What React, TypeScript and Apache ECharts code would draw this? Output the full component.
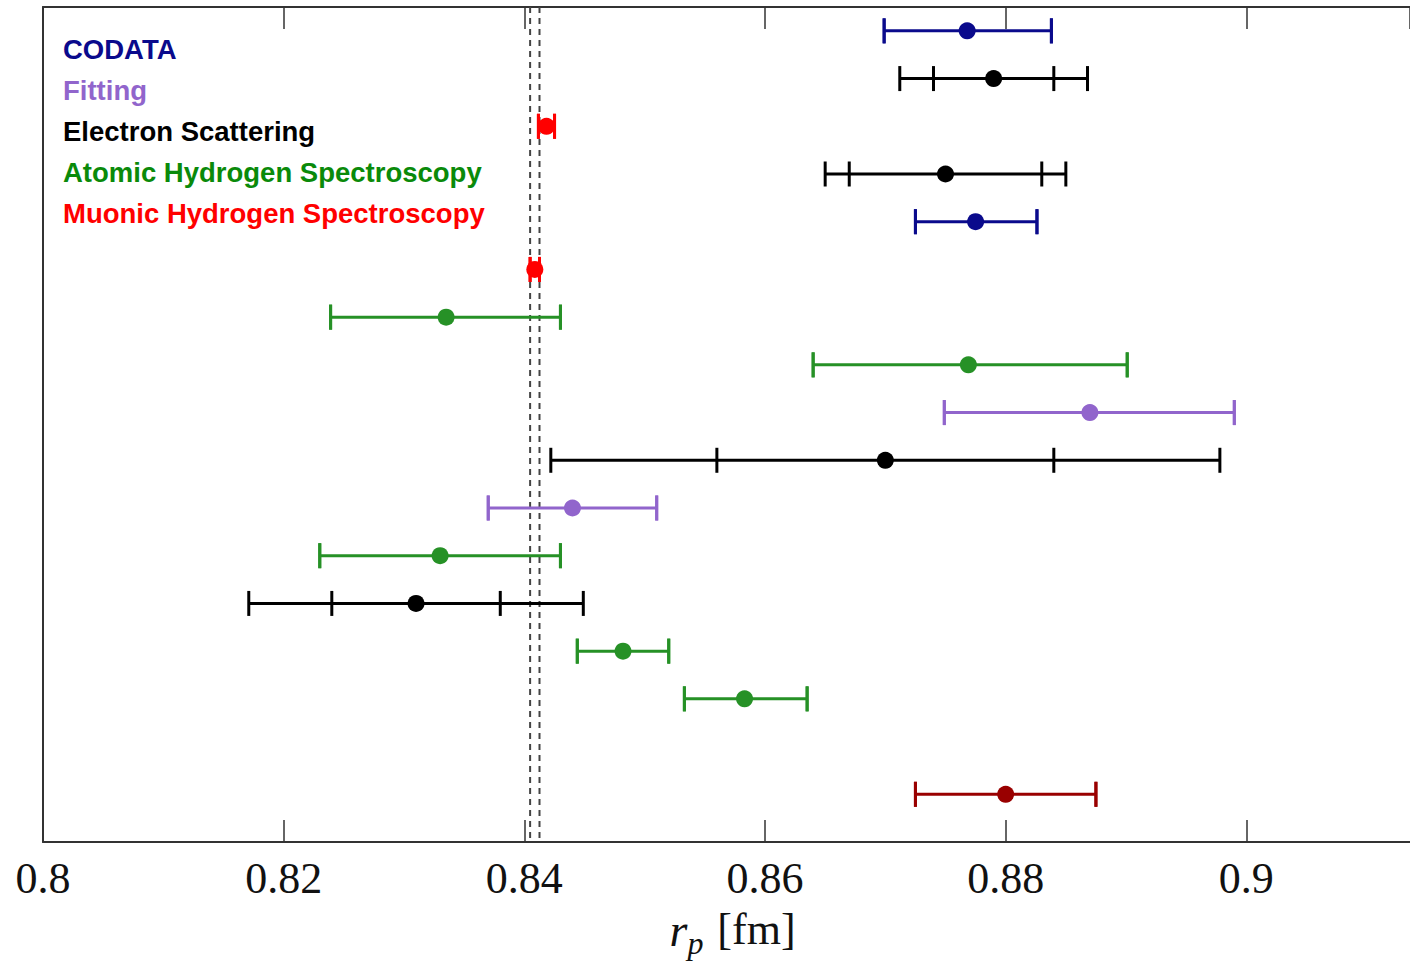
import React, { useEffect, useRef } from 'react';
import * as echarts from 'echarts';

// Row positions (top = 1); row 16 is empty
const rowIndex = [1, 2, 3, 4, 5, 6, 7, 8, 9, 10, 11, 12, 13, 14, 15, 17];
// group index per row: 0 CODATA, 1 Fitting, 2 Electron Scattering, 3 Atomic H, 4 Muonic H, 5 Other
const rowGroup = [0, 2, 4, 2, 0, 4, 3, 3, 1, 2, 1, 3, 2, 3, 3, 5];
const centers = [0.8768, 0.8790, 0.84184, 0.8750, 0.8775, 0.84087, 0.8335, 0.8769, 0.8870, 0.8700, 0.8440, 0.8330, 0.8310, 0.8482, 0.8583, 0.8800];
const innerLow = [0.8699, 0.8740, 0.84117, 0.8670, 0.8725, 0.84048, 0.8239, 0.8640, 0.8749, 0.8560, 0.8370, 0.8230, 0.8240, 0.8444, 0.8533, 0.8725];
const innerHigh = [0.8838, 0.8840, 0.84251, 0.8830, 0.8826, 0.84126, 0.8430, 0.8901, 0.8990, 0.8840, 0.8510, 0.8430, 0.8380, 0.8520, 0.8635, 0.8875];
const outerLow: (number | null)[] = [null, 0.8712, null, 0.8650, null, null, null, null, null, 0.8422, null, null, 0.8171, null, null, null];
const outerHigh: (number | null)[] = [null, 0.8868, null, 0.8850, null, null, null, null, null, 0.8978, null, null, 0.8449, null, null, null];

const groupNames = ['CODATA', 'Fitting', 'Electron Scattering', 'Atomic Hydrogen Spectroscopy', 'Muonic Hydrogen Spectroscopy', 'Other'];
const groupColors = ['#0a0a8c', '#9165cc', '#000000', '#269126', '#ff0000', '#990000'];
const legendLabels = ['CODATA', 'Fitting', 'Electron Scattering', 'Atomic Hydrogen Spectroscopy', 'Muonic Hydrogen Spectroscopy'];
const legendColors = ['#0a0a8c', '#9165cc', '#000000', '#0a8a0a', '#ff0000'];
const bandLines = [0.84048, 0.84126];

const X_MIN = 0.8;
const X_MAX = 0.9136;
const X_STEP = 0.02;
const Y_MIN = 0.5;
const Y_MAX = 18;

export default function App() {
  const ref = useRef<HTMLDivElement>(null);
  useEffect(() => {
    if (!ref.current) return;
    const chart = echarts.init(ref.current, null, { renderer: 'svg' });

    const fmt = (v: number) => {
      const k = v / X_STEP;
      return Math.abs(k - Math.round(k)) < 1e-6 ? String(parseFloat(v.toFixed(2))) : '';
    };

    const errSeries: any[] = [];
    const dotSeries: any[] = [];
    groupNames.forEach((g, gi) => {
      const color = groupColors[gi];
      const errData: number[][] = [];
      const dotData: number[][] = [];
      rowIndex.forEach((r, i) => {
        if (rowGroup[i] !== gi) return;
        const ol = outerLow[i] ?? innerLow[i];
        const oh = outerHigh[i] ?? innerHigh[i];
        errData.push([centers[i], r, innerLow[i], innerHigh[i], ol, oh]);
        dotData.push([centers[i], r]);
      });
      errSeries.push({
        type: 'custom',
        name: g + ' err',
        z: 3,
        silent: true,
        data: errData,
        encode: { x: [0, 2, 3, 4, 5], y: 1 },
        renderItem: (params: any, api: any) => {
          const y = api.value(1);
          const lo = api.coord([api.value(2), y]);
          const hi = api.coord([api.value(3), y]);
          const olo = api.coord([api.value(4), y]);
          const ohi = api.coord([api.value(5), y]);
          const capH = 12.5;
          const st = { stroke: color, lineWidth: 3, fill: null };
          const cap = (p: number[]) => ({
            type: 'line',
            shape: { x1: p[0], y1: p[1] - capH, x2: p[0], y2: p[1] + capH },
            style: st,
          });
          return {
            type: 'group',
            children: [
              { type: 'line', shape: { x1: olo[0], y1: olo[1], x2: ohi[0], y2: ohi[1] }, style: st },
              cap(lo),
              cap(hi),
              cap(olo),
              cap(ohi),
            ],
          };
        },
      });
      dotSeries.push({
        type: 'scatter',
        name: g,
        z: 4,
        symbol: 'circle',
        symbolSize: 17,
        itemStyle: { color, opacity: 1 },
        data: dotData,
      });
    });

    const bandSeries = bandLines.map((v, i) => ({
      type: 'line',
      name: 'band' + i,
      z: 2,
      silent: true,
      symbol: 'none',
      lineStyle: { color: '#444', width: 2, type: [6, 5] },
      data: [
        [v, Y_MIN],
        [v, Y_MAX],
      ],
    }));

    const baseX = {
      type: 'value',
      min: X_MIN,
      max: X_MAX,
      interval: X_STEP,
      splitLine: { show: false },
      axisLine: { show: true, onZero: false, lineStyle: { color: '#333', width: 2 } },
      axisTick: { show: true, inside: true, length: 22, lineStyle: { color: '#333', width: 1.5 } },
    };

    chart.setOption({
      animation: false,
      backgroundColor: '#fff',
      grid: { left: 43, top: 7, right: 0, bottom: 121, containLabel: false, outerBoundsMode: 'none' },
      xAxis: [
        {
          ...baseX,
          position: 'bottom',
          axisLabel: {
            show: true,
            fontFamily: 'Liberation Serif',
            fontSize: 44,
            color: '#111',
            margin: 14,
            showMaxLabel: false,
            formatter: fmt,
          },
          name: '{i|r}{s|p}{n|[fm]}',
          nameLocation: 'middle',
          nameGap: 65,
          nameTextStyle: {
            rich: {
              i: { fontFamily: 'Liberation Serif', fontStyle: 'italic', fontSize: 46, lineHeight: 46, verticalAlign: 'top', padding: [0, 0, 0, 12], color: '#111' },
              s: { fontFamily: 'Liberation Serif', fontStyle: 'italic', fontSize: 32, lineHeight: 30, verticalAlign: 'top', padding: [20, 0, 0, 0], color: '#111' },
              n: { fontFamily: 'Liberation Serif', fontSize: 44, lineHeight: 46, verticalAlign: 'top', padding: [0, 0, 0, 14], color: '#111' },
            },
          },
        },
        {
          ...baseX,
          position: 'top',
          axisLabel: { show: false },
        },
      ],
      yAxis: {
        type: 'value',
        inverse: true,
        min: Y_MIN,
        max: Y_MAX,
        splitLine: { show: false },
        axisTick: { show: false },
        axisLabel: { show: false },
        axisLine: { show: true, onZero: false, lineStyle: { color: '#333', width: 2 } },
      },
      graphic: legendLabels.map((t, i) => ({
        type: 'text',
        left: 63,
        top: 35 + i * 41.2,
        style: {
          text: t,
          fill: legendColors[i],
          font: 'bold 27.5px "Liberation Sans", Arial, sans-serif',
        },
        z: 10,
      })),
      series: [...bandSeries, ...errSeries, ...dotSeries],
    });

    return () => chart.dispose();
  }, []);

  return (
    <div
      ref={ref}
      style={{ position: 'fixed', left: 0, top: 0, width: 1410, height: 963, background: '#fff' }}
    />
  );
}
